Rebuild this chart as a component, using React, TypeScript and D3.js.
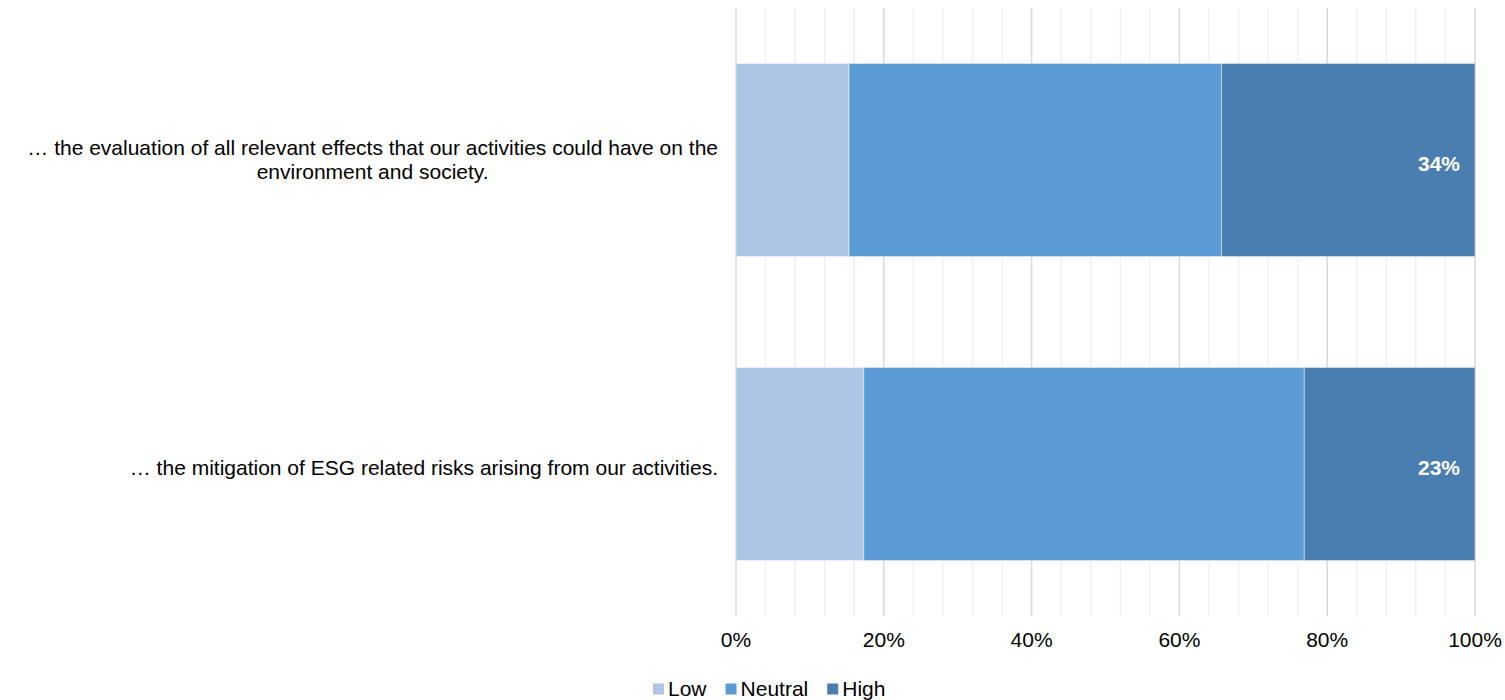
import React, { useEffect, useRef } from "react";
import * as d3 from "d3";

const categories = [
  ["… the evaluation of all relevant effects that our activities could have on the", "environment and society."],
  ["… the mitigation of ESG related risks arising from our activities."],
];
const seriesNames = ["Low", "Neutral", "High"];
const lowValues = [15.3, 17.3];
const neutralValues = [50.4, 59.6];
const highValues = [34.3, 23.1];
const highLabels = ["34%", "23%"];
const tickValues = [0, 20, 40, 60, 80, 100];
const tickLabels = ["0%", "20%", "40%", "60%", "80%", "100%"];
const colors = ["#aec6e6", "#5b9bd5", "#4a7eb0"];

const W = 1505;
const H = 700;
const FONT = "'Liberation Sans', Arial, sans-serif";
const FS = 21;

export default function App() {
  const ref = useRef<SVGSVGElement | null>(null);

  useEffect(() => {
    const svg = d3.select(ref.current);
    svg.selectAll("*").remove();

    const x = d3.scaleLinear().domain([0, 100]).range([736, 1475]);
    const y = d3
      .scaleBand<number>()
      .domain([0, 1])
      .range([8, 616])
      .paddingInner(0.365)
      .paddingOuter(0.1825);

    // minor gridlines
    const minor = d3.range(0, 101, 4).filter((v) => v % 20 !== 0);
    svg
      .append("g")
      .selectAll("line")
      .data(minor)
      .join("line")
      .attr("x1", (d) => x(d))
      .attr("x2", (d) => x(d))
      .attr("y1", 8)
      .attr("y2", 616)
      .attr("stroke", "#efefef")
      .attr("stroke-width", 1.3);

    svg
      .append("g")
      .selectAll("line")
      .data(tickValues)
      .join("line")
      .attr("x1", (d) => x(d))
      .attr("x2", (d) => x(d))
      .attr("y1", 8)
      .attr("y2", 616)
      .attr("stroke", "#d9d9d9")
      .attr("stroke-width", 1.5);

    // stacked bars
    const rows = [0, 1].map((i) => ({
      i,
      vals: [lowValues[i], neutralValues[i], highValues[i]],
    }));
    const gBars = svg.append("g");
    rows.forEach((r) => {
      let acc = 0;
      r.vals.forEach((v, k) => {
        gBars
          .append("rect")
          .attr("x", x(acc))
          .attr("y", y(r.i)!)
          .attr("width", x(acc + v) - x(acc))
          .attr("height", y.bandwidth())
          .attr("fill", colors[k])
          .attr("stroke", "rgba(255,255,255,0.45)")
          .attr("stroke-width", 1);
        acc += v;
      });
      gBars
        .append("text")
        .attr("x", x(100) - 15)
        .attr("y", y(r.i)! + y.bandwidth() / 2 + FS * 0.35 + 4)
        .attr("text-anchor", "end")
        .attr("font-family", FONT)
        .attr("font-size", FS)
        .attr("font-weight", "bold")
        .attr("fill", "#ffffff")
        .text(highLabels[r.i]);
    });

    // category labels
    const gCat = svg.append("g");
    categories.forEach((lines, i) => {
      const cy = y(i)! + y.bandwidth() / 2;
      const lh = FS * 1.15;
      const n = lines.length;
      const off = n === 1 ? 4 : 0;
      const texts = lines.map((ln, j) =>
        gCat
          .append("text")
          .attr("y", cy + (j - (n - 1) / 2) * lh + FS * 0.35 + off)
          .attr("font-family", FONT)
          .attr("font-size", FS)
          .attr("fill", "#000")
          .text(ln)
      );
      const widths = texts.map((t) => (t.node() as SVGTextElement).getComputedTextLength());
      const maxW = Math.max(...widths);
      const right = 718;
      const center = right - maxW / 2;
      texts.forEach((t) => t.attr("x", center).attr("text-anchor", "middle"));
    });

    // x tick labels
    svg
      .append("g")
      .selectAll("text")
      .data(tickValues)
      .join("text")
      .attr("x", (d) => x(d))
      .attr("y", 640 + FS * 0.35)
      .attr("text-anchor", "middle")
      .attr("font-family", FONT)
      .attr("font-size", FS)
      .attr("fill", "#000")
      .text((_, i) => tickLabels[i]);

    // legend
    const gLeg = svg.append("g");
    let lx = 653;
    const ly = 689;
    seriesNames.forEach((name, k) => {
      gLeg
        .append("rect")
        .attr("x", lx)
        .attr("y", ly - 5.5)
        .attr("width", 11)
        .attr("height", 11)
        .attr("fill", colors[k]);
      const t = gLeg
        .append("text")
        .attr("x", lx + 15)
        .attr("y", ly + FS * 0.35)
        .attr("font-family", FONT)
        .attr("font-size", FS)
        .attr("fill", "#000")
        .text(name);
      const w = (t.node() as SVGTextElement).getComputedTextLength();
      lx = lx + 15 + w + 19;
    });
  }, []);

  return (
    <svg
      ref={ref}
      width={W}
      height={H}
      style={{ position: "absolute", left: 0, top: 0, background: "#fff" }}
    />
  );
}
